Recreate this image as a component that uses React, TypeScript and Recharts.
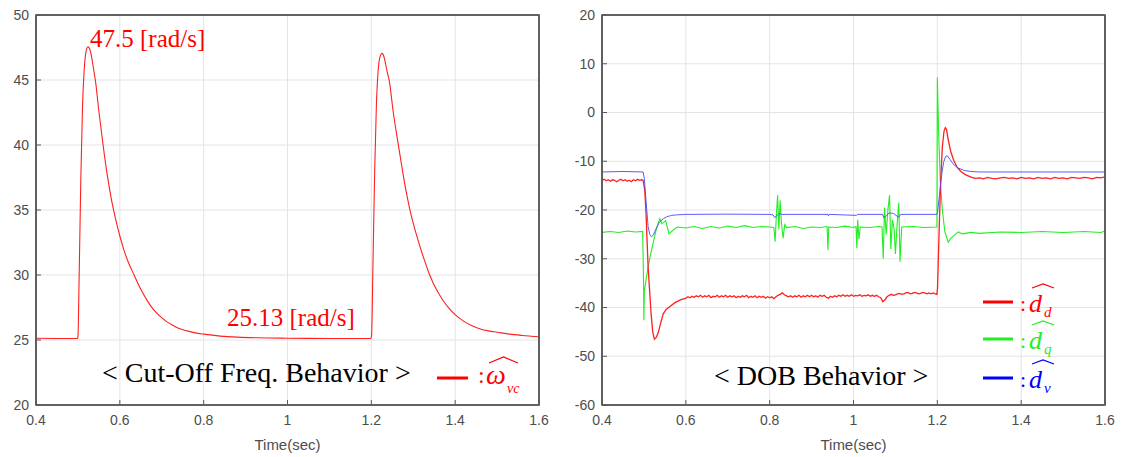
import React from 'react';
import { LineChart, Line, XAxis, YAxis, ReferenceLine } from 'recharts';

// time axis shared by both panels
const xTicks = [0.4, 0.6, 0.8, 1, 1.2, 1.4, 1.6];
const cutoffTicks = [20, 25, 30, 35, 40, 45, 50];
const dobTicks = [-60, -50, -40, -30, -20, -10, 0, 10, 20];

// cut-off frequency estimate [rad/s]  (time, value)
const omegaVc: [number, number][] = [
  [0.4, 25.13], [0.45, 25.12], [0.499, 25.12], [0.5, 25.2], [0.503, 30], [0.507, 37.5],
  [0.511, 43], [0.515, 45.8], [0.519, 47.1], [0.524, 47.55], [0.528, 47.4], [0.532, 46.9],
  [0.537, 45.9], [0.542, 44.9], [0.55, 42.6], [0.56, 40.0], [0.57, 37.7], [0.58, 35.8],
  [0.59, 34.3], [0.6, 33.0], [0.61, 31.9], [0.62, 31.0], [0.634, 30.0], [0.65, 28.9],
  [0.665, 28.05], [0.68, 27.35], [0.695, 26.85], [0.71, 26.45], [0.725, 26.15], [0.74, 25.9],
  [0.76, 25.7], [0.78, 25.55], [0.8, 25.45], [0.84, 25.3], [0.88, 25.22], [0.93, 25.17],
  [1.0, 25.14], [1.1, 25.12], [1.199, 25.12], [1.2005, 25.3], [1.204, 31], [1.208, 38],
  [1.212, 43], [1.216, 45.6], [1.22, 46.7], [1.2255, 47.05], [1.229, 46.9], [1.233, 46.4],
  [1.238, 45.6], [1.243, 44.9], [1.252, 42.6], [1.265, 39.9], [1.275, 37.9], [1.285, 36.1],
  [1.295, 34.6], [1.305, 33.4], [1.315, 32.3], [1.325, 31.3], [1.338, 30.1], [1.355, 28.9],
  [1.37, 28.1], [1.385, 27.45], [1.4, 26.95], [1.42, 26.45], [1.44, 26.1], [1.46, 25.85],
  [1.48, 25.7], [1.5, 25.6], [1.53, 25.45], [1.56, 25.35], [1.6, 25.25],
];

// DOB estimates
const dHatD: [number, number][] = [
  [0.4, -13.9], [0.405, -13.7], [0.41, -14.0], [0.415, -13.8], [0.42, -14.1], [0.425, -13.8],
  [0.43, -13.9], [0.435, -14.2], [0.44, -13.9], [0.445, -13.7], [0.45, -14.0], [0.455, -13.8],
  [0.46, -14.1], [0.465, -13.9], [0.47, -14.2], [0.475, -13.8], [0.48, -14.0], [0.485, -13.7],
  [0.49, -13.9], [0.495, -13.8], [0.498, -13.9], [0.502, -16],
  [0.505, -20.6], [0.51, -31.7], [0.517, -41.1], [0.521, -45], [0.525, -46.5], [0.529, -46.2],
  [0.534, -45.2], [0.54, -43.2], [0.546, -41.3], [0.553, -40.4], [0.562, -39.8], [0.574, -39],
  [0.586, -38.5], [0.6, -38.1], [0.605, -37.8], [0.61, -38.0], [0.615, -37.7], [0.62, -37.9],
  [0.625, -37.6], [0.63, -37.8], [0.635, -37.5], [0.64, -37.9], [0.645, -37.6], [0.65, -37.8],
  [0.655, -37.5], [0.66, -38.0], [0.665, -37.7], [0.67, -37.8], [0.675, -37.5], [0.68, -37.9],
  [0.685, -37.6], [0.69, -37.8], [0.695, -37.5], [0.7, -37.9], [0.705, -37.6], [0.71, -37.8],
  [0.715, -37.6], [0.72, -38.0], [0.725, -37.7], [0.73, -37.9], [0.735, -37.6], [0.74, -37.8],
  [0.745, -37.5], [0.75, -38.0], [0.755, -37.7], [0.76, -37.9], [0.765, -37.6], [0.77, -38.0],
  [0.775, -37.7], [0.78, -37.9], [0.785, -37.7], [0.79, -38.1], [0.795, -37.8], [0.8, -38.0],
  [0.805, -37.8], [0.81, -38.2], [0.815, -37.8], [0.82, -37.5], [0.825, -37.3], [0.83, -37.0],
  [0.835, -37.4], [0.84, -37.6], [0.845, -37.8], [0.85, -37.6], [0.855, -37.9], [0.86, -37.6],
  [0.865, -37.8], [0.87, -37.5], [0.875, -37.9], [0.88, -37.6], [0.885, -37.8], [0.89, -37.5],
  [0.895, -37.8], [0.9, -37.5], [0.905, -37.8], [0.91, -37.6], [0.915, -37.9], [0.92, -37.5],
  [0.925, -37.7], [0.93, -37.5], [0.935, -37.9], [0.94, -38.1], [0.945, -37.7], [0.95, -37.9],
  [0.955, -37.6], [0.96, -37.8], [0.965, -37.5], [0.97, -37.7], [0.975, -37.4], [0.98, -37.7],
  [0.985, -37.5], [0.99, -37.7], [0.995, -37.4], [1.0, -37.7], [1.005, -37.5], [1.01, -37.6],
  [1.015, -37.4], [1.02, -37.7], [1.025, -37.5], [1.03, -37.6], [1.035, -37.4], [1.04, -37.7],
  [1.045, -37.5], [1.05, -37.7], [1.055, -37.5], [1.06, -37.8], [1.065, -38.0], [1.07, -38.8],
  [1.075, -38.4], [1.08, -37.8], [1.085, -37.5], [1.09, -37.3], [1.095, -37.5], [1.1, -37.4],
  [1.105, -37.2], [1.11, -37.1], [1.115, -37.3], [1.12, -37.2], [1.125, -37.0], [1.13, -36.9],
  [1.135, -37.2], [1.14, -37.1], [1.145, -36.9], [1.15, -37.0], [1.155, -37.2], [1.16, -37.1],
  [1.165, -36.9], [1.17, -37.0], [1.175, -37.2], [1.18, -37.0], [1.185, -37.2], [1.19, -37.0],
  [1.195, -37.2], [1.199, -37.3], [1.2005, -36], [1.204, -25], [1.208, -14],
  [1.212, -7], [1.216, -3.8], [1.219, -3.1], [1.222, -3.5], [1.226, -5.6], [1.232, -8],
  [1.239, -9.8], [1.247, -11.2], [1.256, -12.1], [1.268, -12.8], [1.282, -13.3], [1.29, -13.5],
  [1.3, -13.4], [1.31, -13.6], [1.32, -13.3], [1.33, -13.5], [1.34, -13.6], [1.35, -13.4],
  [1.36, -13.3], [1.37, -13.5], [1.38, -13.4], [1.39, -13.6], [1.4, -13.3], [1.41, -13.5],
  [1.42, -13.4], [1.43, -13.6], [1.44, -13.3], [1.45, -13.5], [1.46, -13.4], [1.47, -13.6],
  [1.48, -13.3], [1.49, -13.5], [1.5, -13.4], [1.51, -13.6], [1.52, -13.3], [1.53, -13.4],
  [1.54, -13.5], [1.55, -13.3], [1.56, -13.4], [1.57, -13.6], [1.58, -13.3], [1.59, -13.4],
  [1.6, -13.2],
];

const dHatQ: [number, number][] = [
  [0.4, -24.6], [0.42, -24.4], [0.44, -24.6], [0.46, -24.3], [0.48, -24.5], [0.497, -24.4],
  [0.499, -34], [0.5, -42.6], [0.501, -36.5], [0.503, -35.5], [0.51, -31.7], [0.516, -29],
  [0.522, -26.8], [0.528, -24.5], [0.534, -22.7], [0.538, -21.8], [0.543, -22.8], [0.548, -22.5],
  [0.552, -22.2], [0.556, -23.6], [0.56, -24.9], [0.565, -24.5], [0.57, -24.1], [0.58, -23.5],
  [0.6, -23.7], [0.62, -23.4], [0.64, -23.8], [0.66, -23.4], [0.68, -23.7], [0.7, -23.3],
  [0.72, -23.6], [0.74, -23.2], [0.76, -23.6], [0.78, -23.4], [0.8, -23.5], [0.81, -23.6],
  [0.813, -26.5], [0.816, -21], [0.819, -17], [0.822, -24], [0.825, -18], [0.828, -22.5],
  [0.832, -25.8], [0.836, -23], [0.84, -23.6], [0.86, -23.4], [0.88, -23.8], [0.9, -23.5],
  [0.92, -23.6], [0.937, -23.4], [0.939, -28.2], [0.941, -23.5], [0.96, -23.6], [0.98, -23.3],
  [1.0, -23.6], [1.006, -23.4], [1.008, -27.8], [1.01, -22], [1.013, -26], [1.016, -23.5],
  [1.04, -23.6], [1.06, -23.4], [1.068, -23.5], [1.071, -30], [1.074, -19.5], [1.078, -25],
  [1.082, -20], [1.086, -17], [1.089, -28], [1.093, -22], [1.097, -24], [1.1, -29],
  [1.104, -23], [1.108, -18.5], [1.111, -30.6], [1.115, -23.5], [1.14, -23.4], [1.17, -23.6],
  [1.199, -23.5], [1.2, 7.2], [1.203, -4], [1.207, -14], [1.212, -20], [1.218, -24.5],
  [1.226, -26.6], [1.232, -25.8], [1.24, -25.2], [1.25, -24.5], [1.26, -24.9], [1.28, -24.6],
  [1.3, -24.8], [1.35, -24.5], [1.4, -24.6], [1.45, -24.4], [1.5, -24.6], [1.55, -24.4],
  [1.59, -24.6], [1.6, -24.3],
];

const dHatV: [number, number][] = [
  [0.4, -12.2], [0.45, -12.1], [0.498, -12.2], [0.501, -13.5], [0.505, -18], [0.51, -23.4],
  [0.514, -25], [0.518, -25.5], [0.522, -25.2], [0.526, -24.4], [0.532, -23.3], [0.538, -22.4],
  [0.546, -21.8], [0.554, -21.4], [0.566, -21.1], [0.578, -21.0], [0.6, -20.9], [0.7, -20.85],
  [0.8, -20.9], [0.808, -21.0], [0.812, -21.5], [0.816, -21.3], [0.822, -20.7], [0.828, -20.9],
  [0.939, -20.9], [0.94, -21.2], [0.942, -20.9], [1.007, -21.1], [1.01, -20.9], [1.07, -20.9],
  [1.072, -21.6], [1.078, -21.2], [1.085, -20.6], [1.095, -20.7], [1.108, -21.5], [1.112, -20.9],
  [1.199, -20.9], [1.2005, -20.5], [1.205, -17], [1.21, -13], [1.215, -10.2], [1.22, -9.0],
  [1.224, -8.9], [1.23, -9.6], [1.239, -10.7], [1.25, -11.4], [1.265, -11.9], [1.28, -12.1],
  [1.3, -12.2], [1.4, -12.2], [1.5, -12.2], [1.6, -12.2],
];

const rows = (pts: [number, number][]) => pts.map(([t, v]) => ({ t, v }));
const inner = (ticks: number[]) => ticks.slice(1, -1);

const SANS = '"Liberation Sans", Arial, sans-serif';
const SERIF = '"Liberation Serif", "Times New Roman", serif';
const FRAME = '#5a5a5a';
const GRID = '#e4e4e4';
const tickStyle = { fill: '#4d4d4d', fontSize: 14, fontFamily: SANS };
const fmt = (v: number) => String(v);
const blank = () => '';
const axisLineStyle = { stroke: FRAME, strokeWidth: 1.6 };
const tickLineStyle = { stroke: FRAME, strokeWidth: 1 };

const App: React.FC = () => {
  return (
    <div style={{ position: 'absolute', left: 0, top: 0, width: 1121, height: 457, background: '#fff' }}>
      <div style={{ position: 'absolute', left: 0, top: 0 }}>
        <LineChart width={560} height={457} margin={{ top: 14, right: 20, bottom: 0, left: 0 }}>
          {inner(xTicks).map((x) => (
            <ReferenceLine key={'x' + x} x={x} stroke={GRID} strokeWidth={1} />
          ))}
          {inner(cutoffTicks).map((y) => (
            <ReferenceLine key={'y' + y} y={y} stroke={GRID} strokeWidth={1} />
          ))}
          <XAxis dataKey="t" type="number" domain={[0.4, 1.6]} ticks={xTicks} allowDataOverflow height={52}
            tickSize={-5} tickMargin={15} tick={tickStyle} tickFormatter={fmt}
            axisLine={axisLineStyle} tickLine={tickLineStyle}
            label={{ value: 'Time(sec)', position: 'insideBottom', offset: 7, fill: '#4d4d4d', fontSize: 15, fontFamily: SANS }} />
          <XAxis xAxisId="top" orientation="top" type="number" domain={[0.4, 1.6]} ticks={xTicks} height={1}
            tickSize={-5} tickFormatter={blank} axisLine={axisLineStyle} tickLine={tickLineStyle} />
          <YAxis type="number" domain={[20, 50]} ticks={cutoffTicks} width={36} tickSize={-5} tickMargin={12}
            tick={tickStyle} axisLine={axisLineStyle} tickLine={tickLineStyle} />
          <YAxis yAxisId="right" orientation="right" type="number" domain={[20, 50]} ticks={cutoffTicks} width={1}
            tickSize={-5} tickFormatter={blank} axisLine={axisLineStyle} tickLine={tickLineStyle} />
          <Line data={rows(omegaVc)} dataKey="v" type="monotone" stroke="#ff2020" strokeWidth={1.1} dot={false} isAnimationActive={false} />
        </LineChart>
      </div>
      <div style={{ position: 'absolute', left: 560, top: 0 }}>
        <LineChart width={561} height={457} margin={{ top: 14, right: 15, bottom: 0, left: 0 }}>
          {inner(xTicks).map((x) => (
            <ReferenceLine key={'x' + x} x={x} stroke={GRID} strokeWidth={1} />
          ))}
          {inner(dobTicks).map((y) => (
            <ReferenceLine key={'y' + y} y={y} stroke={GRID} strokeWidth={1} />
          ))}
          <XAxis dataKey="t" type="number" domain={[0.4, 1.6]} ticks={xTicks} allowDataOverflow height={52}
            tickSize={-5} tickMargin={15} tick={tickStyle} tickFormatter={fmt}
            axisLine={axisLineStyle} tickLine={tickLineStyle}
            label={{ value: 'Time(sec)', position: 'insideBottom', offset: 7, fill: '#4d4d4d', fontSize: 15, fontFamily: SANS }} />
          <XAxis xAxisId="top" orientation="top" type="number" domain={[0.4, 1.6]} ticks={xTicks} height={1}
            tickSize={-5} tickFormatter={blank} axisLine={axisLineStyle} tickLine={tickLineStyle} />
          <YAxis type="number" domain={[-60, 20]} ticks={dobTicks} width={42} tickSize={-5} tickMargin={12}
            tick={tickStyle} axisLine={axisLineStyle} tickLine={tickLineStyle} />
          <YAxis yAxisId="right" orientation="right" type="number" domain={[-60, 20]} ticks={dobTicks} width={1}
            tickSize={-5} tickFormatter={blank} axisLine={axisLineStyle} tickLine={tickLineStyle} />
          <Line data={rows(dHatQ)} dataKey="v" type="linear" stroke="#22ee22" strokeWidth={1.1} dot={false} isAnimationActive={false} />
          <Line data={rows(dHatD)} dataKey="v" type="linear" stroke="#ff2020" strokeWidth={1.3} dot={false} isAnimationActive={false} />
          <Line data={rows(dHatV)} dataKey="v" type="linear" stroke="#4a4aff" strokeWidth={0.9} dot={false} isAnimationActive={false} />
        </LineChart>
      </div>
      <svg width={1121} height={457} style={{ position: 'absolute', left: 0, top: 0, pointerEvents: 'none' }}>
        {/* axes box, drawn on top so it stays dark */}
        <rect x={36} y={15} width={503} height={390} fill="none" stroke={FRAME} strokeWidth={1.6} />
        <rect x={602} y={15} width={503} height={390} fill="none" stroke={FRAME} strokeWidth={1.6} />

        <text x={90} y={47} fill="#ff0000" fontFamily={SERIF} fontSize={25}>47.5 [rad/s]</text>
        <text x={227} y={326} fill="#ff0000" fontFamily={SERIF} fontSize={25}>25.13 [rad/s]</text>
        <text x={102} y={382} fill="#000" fontFamily={SERIF} fontSize={28}>&lt; Cut-Off Freq. Behavior &gt;</text>
        <line x1={437} y1={378} x2={468} y2={378} stroke="#ff0000" strokeWidth={3} />
        <text x={478} y={383} fill="#ff0000" fontFamily={SERIF} fontSize={24}>:</text>
        <text x={486} y={384} fill="#ff0000" fontFamily={SERIF} fontSize={28} fontStyle="italic">ω</text>
        <text x={507} y={393} fill="#ff0000" fontFamily={SERIF} fontSize={14} fontStyle="italic">vc</text>
        <path d="M489,363 L503.5,357 L518,363" fill="none" stroke="#ff0000" strokeWidth={1.2} />

        <text x={714} y={385} fill="#000" fontFamily={SERIF} fontSize={28}>&lt; DOB Behavior &gt;</text>
        {[
          { color: '#ff0000', y: 302, sub: 'd' },
          { color: '#22ee22', y: 339, sub: 'q' },
          { color: '#0000ff', y: 378, sub: 'v' },
        ].map((e) => (
          <g key={e.sub}>
            <line x1={983} y1={e.y} x2={1013} y2={e.y} stroke={e.color} strokeWidth={3} />
            <text x={1020} y={e.y + 9} fill={e.color} fontFamily={SERIF} fontSize={22}>:</text>
            <text x={1029} y={e.y + 10} fill={e.color} fontFamily={SERIF} fontSize={26} fontStyle="italic">d</text>
            <text x={1044} y={e.y + 15} fill={e.color} fontFamily={SERIF} fontSize={15} fontStyle="italic">{e.sub}</text>
            <path d={`M1032,${e.y - 14} L1043,${e.y - 18} L1054,${e.y - 14}`} fill="none" stroke={e.color} strokeWidth={1.2} />
          </g>
        ))}
      </svg>
    </div>
  );
};

export default App;
